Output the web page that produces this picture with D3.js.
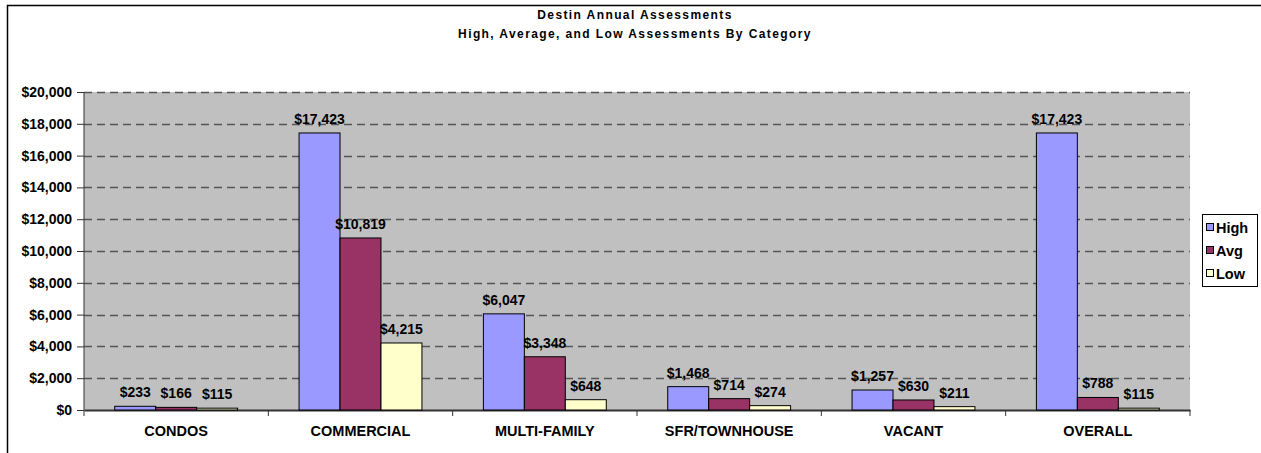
<!DOCTYPE html>
<html>
<head>
<meta charset="utf-8">
<script src="https://d3js.org/d3.v7.min.js"></script>
<style>
  body { margin: 0; background: #fff; }
  text { font-family: Arial, "Liberation Sans", sans-serif; font-weight: bold; fill: #000; }
</style>
</head>
<body>
<svg width="1261" height="453"></svg>
<script>
// chart data
var categories = ["CONDOS", "COMMERCIAL", "MULTI-FAMILY", "SFR/TOWNHOUSE", "VACANT", "OVERALL"];
var seriesNames = ["High", "Avg", "Low"];
var highValues = [233, 17423, 6047, 1468, 1257, 17423];
var avgValues  = [166, 10819, 3348, 714, 630, 788];
var lowValues  = [115, 4215, 648, 274, 211, 115];
var yTicks = [0, 2000, 4000, 6000, 8000, 10000, 12000, 14000, 16000, 18000, 20000];
var titleLines = ["Destin  Annual Assessments", "High, Average, and Low Assessments By Category"];

var colors = ["#9999FF", "#993366", "#FFFFCC"];
var series = [highValues, avgValues, lowValues];

var svg = d3.select("svg");

// outer frame
svg.append("rect")
  .attr("x", 7.5).attr("y", 5.5)
  .attr("width", 1300).attr("height", 500)
  .attr("fill", "none").attr("stroke", "#000").attr("stroke-width", 1.5);

var plot = {left: 84, top: 92, right: 1190, bottom: 410};

var x = d3.scaleBand().domain(categories).range([plot.left, plot.right]);
// Excel gap width 150%: group = 3 bars, gap = 1.5 bars
var barW = x.bandwidth() / 4.5;
var y = d3.scaleLinear().domain([0, 20000]).range([plot.bottom, plot.top]);

// plot background
svg.append("rect")
  .attr("x", plot.left).attr("y", plot.top)
  .attr("width", plot.right - plot.left).attr("height", plot.bottom - plot.top)
  .attr("fill", "#C0C0C0");

// gridlines
svg.append("g").selectAll("line")
  .data(yTicks.filter(function(d){ return d > 0; }))
  .enter().append("line")
  .attr("x1", plot.left).attr("x2", plot.right)
  .attr("y1", function(d){ return Math.round(y(d)) + 0.5; })
  .attr("y2", function(d){ return Math.round(y(d)) + 0.5; })
  .attr("stroke", "#555").attr("stroke-width", 1.5)
  .attr("stroke-dasharray", "8,5");

// y axis
var yAxis = d3.axisLeft(y).tickValues(yTicks).tickSize(7).tickPadding(5)
  .tickFormat(function(d){ return "$" + d3.format(",")(d); });
var ya = svg.append("g").attr("transform", "translate(" + plot.left + ",0)").call(yAxis);
ya.selectAll("text").style("font-size", "14px").style("font-family", "Arial, 'Liberation Sans', sans-serif");
ya.selectAll("line").attr("stroke", "#333");
ya.select(".domain").attr("stroke", "#333").attr("d", "M0," + plot.top + "V" + plot.bottom);

// x axis
var xAxis = d3.axisBottom(x).tickSize(0).tickPadding(16);
var xa = svg.append("g").attr("transform", "translate(0," + plot.bottom + ")").call(xAxis);
xa.selectAll("text").style("font-size", "14.5px").style("font-family", "Arial, 'Liberation Sans', sans-serif");
xa.select(".domain").attr("stroke", "#333").attr("stroke-width", 2);
xa.selectAll(".sepTick")
  .data(d3.range(categories.length + 1))
  .enter().append("line").attr("class", "sepTick")
  .attr("x1", function(i){ return plot.left + i * x.step(); })
  .attr("x2", function(i){ return plot.left + i * x.step(); })
  .attr("y1", 0).attr("y2", 6)
  .attr("stroke", "#333");

// bars
var groups = svg.append("g").selectAll("g")
  .data(categories).enter().append("g")
  .attr("transform", function(d){ return "translate(" + x(d) + ",0)"; });

groups.each(function(cat, ci) {
  var g = d3.select(this);
  var start = (x.bandwidth() - 3 * barW) / 2;
  seriesNames.forEach(function(s, si) {
    var v = series[si][ci];
    var bx = start + si * barW;
    g.append("rect")
      .attr("x", bx).attr("y", y(v))
      .attr("width", barW).attr("height", y(0) - y(v))
      .attr("fill", colors[si]).attr("stroke", "#000").attr("stroke-width", 1);
    g.append("text")
      .attr("x", bx + barW / 2).attr("y", y(v) - 9)
      .attr("text-anchor", "middle").style("font-size", "14px")
      .text("$" + d3.format(",")(v));
  });
});

// title
svg.append("g").selectAll("text")
  .data(titleLines).enter().append("text")
  .attr("x", 635).attr("y", function(d, i){ return 19 + i * 19; })
  .attr("text-anchor", "middle").style("font-size", "12px")
  .style("letter-spacing", "1.4px")
  .text(function(d){ return d; });

// legend
var lg = svg.append("g").attr("transform", "translate(1202,214)");
lg.append("rect").attr("x", 0.5).attr("y", 0.5).attr("width", 55).attr("height", 72)
  .attr("fill", "#fff").attr("stroke", "#000");
seriesNames.forEach(function(s, i) {
  lg.append("rect").attr("x", 4.5).attr("y", 9.5 + i * 23).attr("width", 7).attr("height", 7)
    .attr("fill", colors[i]).attr("stroke", "#000");
  lg.append("text").attr("x", 14).attr("y", 18.5 + i * 23)
    .style("font-size", "14.5px").text(s);
});
</script>
</body>
</html>
